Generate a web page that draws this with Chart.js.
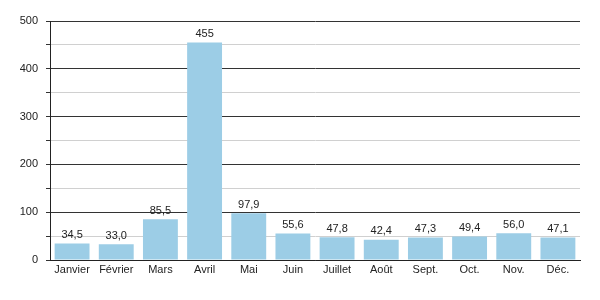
<!DOCTYPE html>
<html>
<head>
<meta charset="utf-8">
<script src="https://cdn.jsdelivr.net/npm/chart.js@4/dist/chart.umd.min.js"></script>
<style>
  html, body { margin: 0; padding: 0; background: #fff; }
</style>
</head>
<body>
<canvas id="myChart" width="600" height="300"></canvas>
<script>
const labels = ['Janvier', 'Février', 'Mars', 'Avril', 'Mai', 'Juin', 'Juillet', 'Août', 'Sept.', 'Oct.', 'Nov.', 'Déc.'];
const values = [34.5, 33.0, 85.5, 455, 97.9, 55.6, 47.8, 42.4, 47.3, 49.4, 56.0, 47.1];
const yMax = 500;
const yStep = 50;

// valeurs au-dessus des barres, virgule décimale
const valueLabels = {
    id: 'valueLabels',
    afterDatasetsDraw(chart) {
        const ctx = chart.ctx;
        const meta = chart.getDatasetMeta(0);
        ctx.save();
        ctx.font = '11px "Liberation Sans", Arial, sans-serif';
        ctx.fillStyle = '#222';
        ctx.textAlign = 'center';
        ctx.textBaseline = 'bottom';
        meta.data.forEach((bar, i) => {
            const txt = values[i].toPrecision(3).replace('.', ',');
            ctx.fillText(txt, bar.x, bar.y - 3);
        });
        ctx.restore();
    }
};

const data = {
    labels: labels,
    datasets: [{
        data: values,
        backgroundColor: '#9ccde6',
        borderWidth: 0,
        categoryPercentage: 1,
        barPercentage: 0.79
    }]
};

const config = {
    type: 'bar',
    data: data,
    options: {
        responsive: false,
        animation: false,
        layout: { padding: { top: 21, right: 20, left: 0, bottom: 0 } },
        plugins: { legend: { display: false }, tooltip: { enabled: false } },
        scales: {
            x: {
                grid: { display: false, drawTicks: false },
                border: { display: true, color: '#222', width: 1 },
                ticks: {
                    color: '#222',
                    font: { family: '"Liberation Sans", Arial, sans-serif', size: 11 },
                    padding: 3,
                    maxRotation: 0,
                    autoSkip: false
                },
                afterFit: (s) => { s.height = 40; }
            },
            y: {
                min: 0,
                max: yMax,
                ticks: {
                    stepSize: yStep,
                    color: '#222',
                    padding: 8,
                    font: { family: '"Liberation Sans", Arial, sans-serif', size: 11 },
                    callback: (v) => (v % 100 === 0 ? v : '')
                },
                grid: {
                    color: (c) => (c.tick && c.tick.value % 100 === 0 ? '#333' : '#d0d0d0'),
                    tickColor: '#333',
                    tickLength: 4
                },
                border: { display: true, color: '#222', width: 1 },
                afterFit: (s) => { s.width = 50; }
            }
        }
    },
    plugins: [valueLabels]
};

new Chart(document.getElementById('myChart'), config);
</script>
</body>
</html>
